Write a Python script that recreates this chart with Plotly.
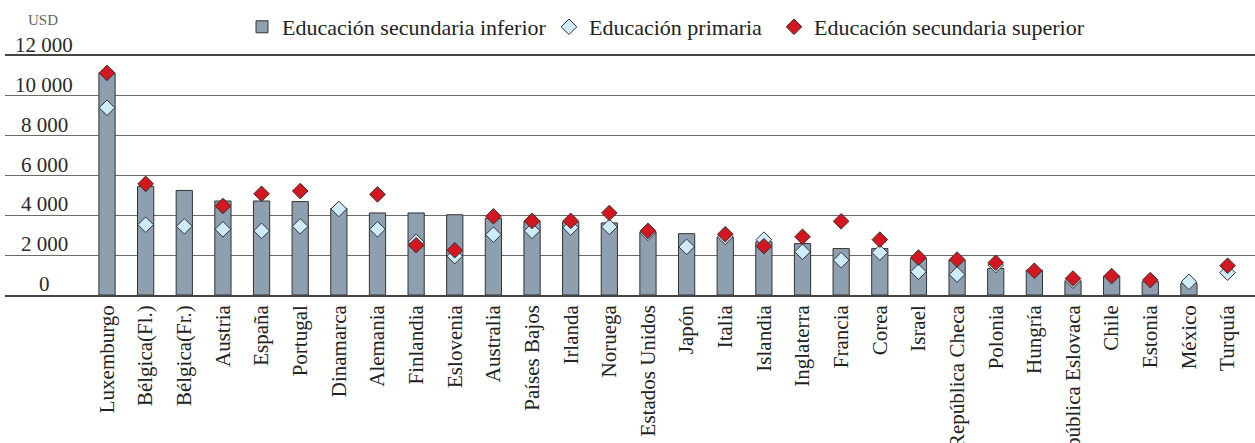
import plotly.graph_objects as go

countries = ["Luxemburgo", "Bélgica(Fl.)", "Bélgica(Fr.)", "Austria", "España", "Portugal",
             "Dinamarca", "Alemania", "Finlandia", "Eslovenia", "Australia", "Países Bajos",
             "Irlanda", "Noruega", "Estados Unidos", "Japón", "Italia", "Islandia",
             "Inglaterra", "Francia", "Corea", "Israel", "República Checa", "Polonia",
             "Hungría", "República Eslovaca", "Chile", "Estonia", "México", "Turquía"]

sec_inferior = [11150, 5450, 5250, 4720, 4720, 4690, 4350, 4120, 4120, 4030, 3850, 3700,
                3670, 3620, 3170, 3080, 2900, 2670, 2580, 2330, 2330, 1830, 1750, 1330,
                1250, 680, 950, 670, 580, None]

primaria = [9400, 3530, 3450, 3300, 3220, 3450, 4320, 3300, 2670, 1950, 3030, 3220,
            3380, 3420, 3120, 2420, 2920, 2780, 2170, 1750, 2130, 1170, 1030, 1500,
            None, 720, None, None, 660, 1120]

sec_superior = [11150, 5580, None, 4470, 5080, 5220, None, 5050, 2500, 2250, 3950, 3720,
                3720, 4120, 3220, None, 3050, 2450, 2920, 3700, 2780, 1880, 1780, 1620,
                1220, 830, 950, 750, None, 1470]

y_ticks = [0, 2000, 4000, 6000, 8000, 10000, 12000]
y_tick_labels = ["0", "2 000", "4 000", "6 000", "8 000", "10 000", "12 000"]

FONT = "Liberation Serif"
W, H = 1255, 443
ML, MT, MB = 5, 56, 148
PW, PH = W - ML, H - MT - MB

fig = go.Figure()
fig.add_trace(go.Bar(
    x=countries, y=sec_inferior, name="Educación secundaria inferior",
    width=0.42, marker=dict(color="#8E9FAF", line=dict(color="#333333", width=1)),
    legend="legend"))
fig.add_trace(go.Scatter(
    x=countries, y=primaria, mode="markers", name="Educación primaria",
    marker=dict(symbol="diamond", size=12, color="#CDEBF8", line=dict(color="#333333", width=1)),
    legend="legend2"))
fig.add_trace(go.Scatter(
    x=countries, y=sec_superior, mode="markers", name="Educación secundaria superior",
    marker=dict(symbol="diamond", size=12, color="#D3161F", line=dict(color="#333333", width=1)),
    legend="legend3"))

annotations = []
for v, t in zip(y_ticks, y_tick_labels):
    annotations.append(dict(x=(44 - ML) / PW, xref="paper", y=v, yref="y", text=t,
                            showarrow=False, xanchor="center", yanchor="middle", yshift=11,
                            font=dict(family=FONT, size=21, color="#2a2a2a")))
annotations.append(dict(x=(43 - ML) / PW, xref="paper", y=(H - MB - 20) / PH, yref="paper",
                        text="USD", showarrow=False, xanchor="center", yanchor="middle",
                        font=dict(family=FONT, size=15, color="#666666")))

leg_common = dict(orientation="h", yref="container", y=1 - 27 / H, yanchor="middle",
                  xref="container", xanchor="left", bgcolor="rgba(0,0,0,0)",
                  font=dict(family=FONT, size=22, color="#222222"), itemclick=False)

fig.update_layout(
    width=W, height=H,
    margin=dict(l=ML, r=0, t=MT, b=MB, autoexpand=False),
    paper_bgcolor="white", plot_bgcolor="white",
    showlegend=True,
    legend=dict(x=242 / W, **leg_common),
    legend2=dict(x=549 / W, **leg_common),
    legend3=dict(x=774 / W, **leg_common),
    annotations=annotations,
    xaxis=dict(type="category", categoryorder="array", categoryarray=countries,
               range=[-2.64, 29.71], showgrid=False, showline=True, mirror=True,
               linecolor="#444444", linewidth=1.5, ticks="", tickangle=-90,
               tickfont=dict(family=FONT, size=21, color="#222222"), automargin=False),
    yaxis=dict(range=[0, 12000], tickvals=y_ticks, showticklabels=False, showgrid=True,
               gridcolor="#6a6a6a", gridwidth=1, zeroline=False, showline=False,
               automargin=False),
)

fig.write_html("out.html", config={"displayModeBar": False},
               post_script="document.body.style.margin='0px';")
